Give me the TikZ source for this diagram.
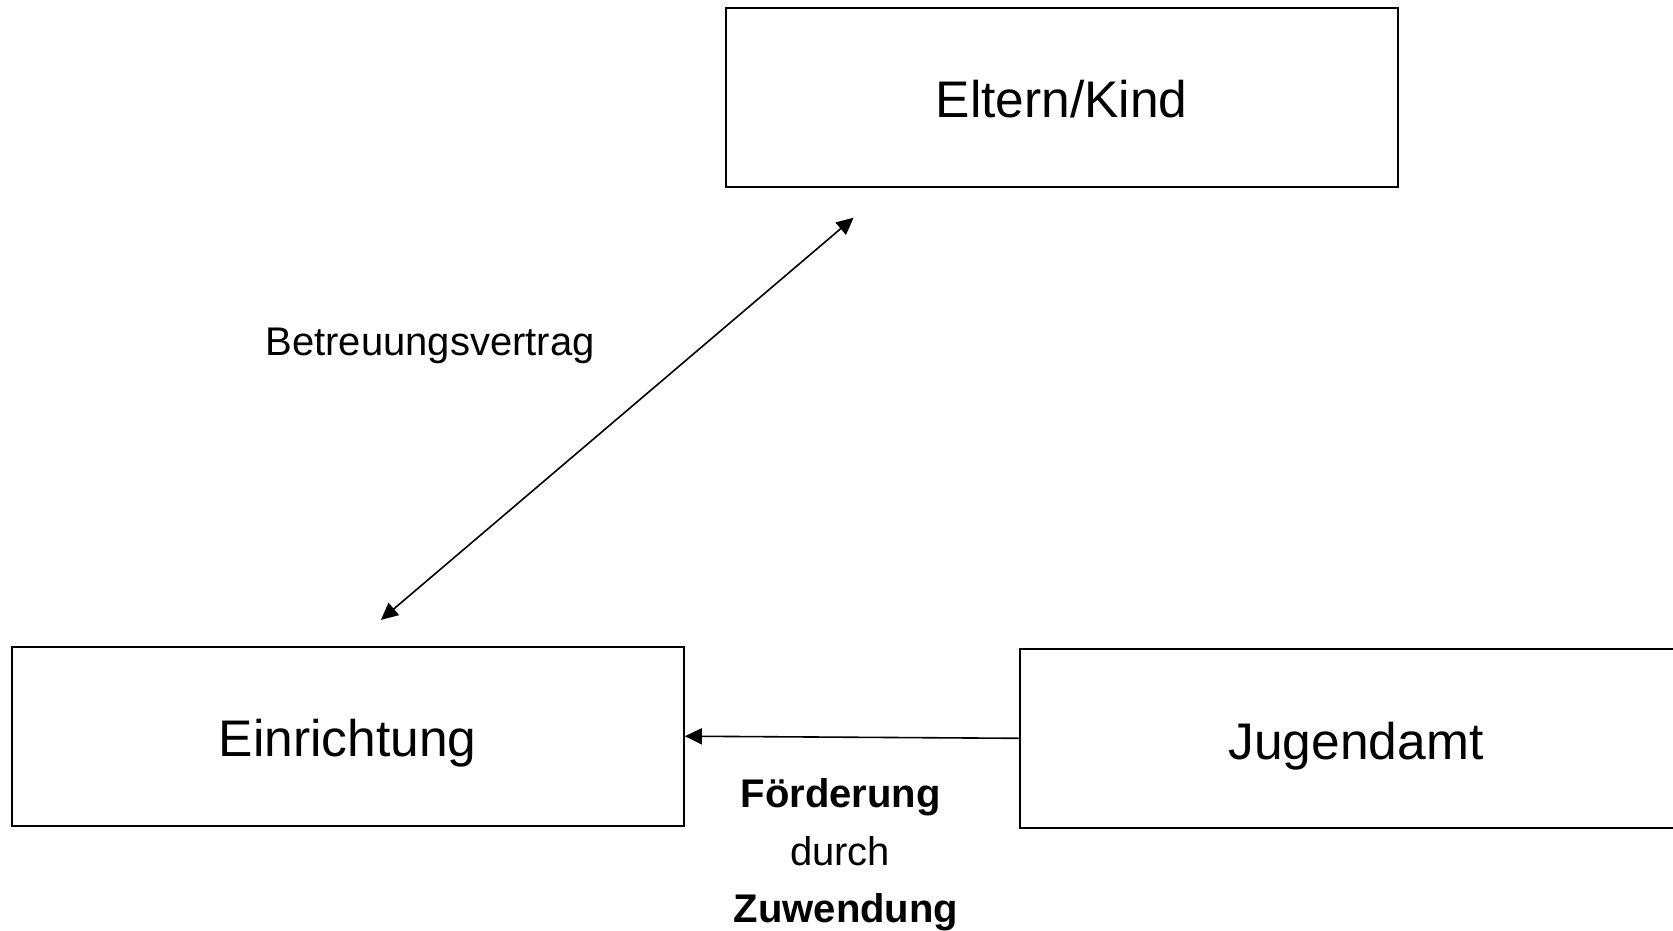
\documentclass[tikz,border=0pt]{standalone}
\usepackage{fontspec}
\setmainfont{Liberation Sans}
\usetikzlibrary{arrows.meta}
\begin{document}
\begin{tikzpicture}[x=1pt,y=-1pt,
  box/.style={draw=black,line width=2pt,minimum width=672pt,minimum height=179pt,inner sep=0pt,
    font=\fontsize{51.5}{60}\selectfont,text height=41.5pt,text depth=0pt},
  lbl/.style={inner sep=0pt,anchor=base,font=\fontsize{40}{48}\selectfont},
  blbl/.style={lbl,font=\fontsize{40}{48}\selectfont\bfseries},
  conn/.style={line width=1.6pt,-{Triangle[length=17pt,width=16pt]}},
  conn2/.style={line width=1.6pt,{Triangle[length=17pt,width=16pt]}-{Triangle[length=17pt,width=16pt]}}]
\useasboundingbox (0,0) rectangle (1673,931);
\begin{scope}
\clip (0,0) rectangle (1673,931);
\node[box] (eltern) at (1061.6,97.1) {Eltern/Kind};
\node[box] (einr) at (347.8,736.2) {Einrichtung};
\node[box] (jug) at (1356,738.3) {Jugendamt};
\end{scope}
\coordinate (a1) at (853.6,217.7);
\coordinate (a2) at (380.9,619.9);
\draw[conn2] (a2) -- (a1);
\draw[conn] (jug.west) -- (einr.east);
\node[lbl] (betr) at (430,355) {Betreuungsvertrag};
\node[blbl] (foe) at (840.8,807.5) {Förderung};
\node[lbl] (durch) at (840.2,865) {durch};
\node[blbl] (zuw) at (846,922.5) {Zuwendung};
\end{tikzpicture}
\end{document}
